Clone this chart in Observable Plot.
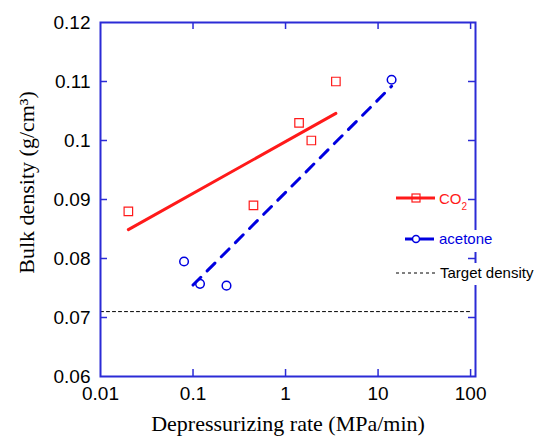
<!DOCTYPE html>
<html><head><meta charset="utf-8">
<script src="https://cdn.jsdelivr.net/npm/d3@7"></script>
<script src="https://cdn.jsdelivr.net/npm/@observablehq/plot@0.6"></script>
<style>
body{margin:0;background:#fff;}
#wrap{position:relative;width:537px;height:443px;}
#wrap svg{display:block;}
#legend{position:absolute;left:0;top:0;pointer-events:none;}
</style></head><body><div id="wrap"></div>
<script>
const co2Rate = [0.02, 0.45, 1.4, 1.9, 3.5];
const co2Density = [0.088, 0.089, 0.103, 0.100, 0.110];
const acetoneRate = [0.08, 0.119, 0.23, 14];
const acetoneDensity = [0.0795, 0.0757, 0.0754, 0.1103];
const co2FitRate = [0.02, 3.5];
const co2FitDensity = [0.0849, 0.1046];
const acetoneFitRate = [0.1, 14];
const acetoneFitDensity = [0.0755, 0.1092];
const targetRate = [0.01, 100];
const targetDensity = 0.071;
const xTicks = [0.01, 0.1, 1, 10, 100];
const xTickLabels = ["0.01", "0.1", "1", "10", "100"];
const yTicks = [0.06, 0.07, 0.08, 0.09, 0.10, 0.11, 0.12];
const yTickLabels = ["0.06", "0.07", "0.08", "0.09", "0.1", "0.11", "0.12"];
const xLabel = "Depressurizing rate (MPa/min)";
const yLabel = "Bulk density (g/cm³)";
const legendNames = ["CO", "acetone", "Target density"];

const frameBlue = "#2b2bd6";
const red = "#ff1a1a";
const blue = "#0000e0";
const W = 537, H = 443, mL = 100, mR = 62, mT = 22, mB = 67;
const iW = W - mL - mR, iH = H - mT - mB;

const co2 = co2Rate.map((x, i) => ({x, y: co2Density[i]}));
const acetone = acetoneRate.map((x, i) => ({x, y: acetoneDensity[i]}));
const co2Fit = co2FitRate.map((x, i) => ({x, y: co2FitDensity[i]}));
const acetoneFit = acetoneFitRate.map((x, i) => ({x, y: acetoneFitDensity[i]}));
const target = targetRate.map(x => ({x, y: targetDensity}));

const chart = Plot.plot({
  width: W, height: H,
  marginLeft: mL, marginRight: mR, marginTop: mT, marginBottom: mB,
  style: {fontFamily: "'Liberation Sans', Arial, sans-serif", background: "white"},
  x: {type: "log", domain: [0.01, 113]},
  y: {domain: [0.06, 0.12]},
  marks: [
    Plot.axisX(xTicks, {anchor: "bottom", tickSize: 0, tickPadding: 10, fontSize: 19, fill: "black",
      tickFormat: d => xTickLabels[xTicks.indexOf(d)], label: null}),
    Plot.axisY(yTicks, {anchor: "left", tickSize: 0, tickPadding: 10, fontSize: 19, fill: "black",
      tickFormat: d => yTickLabels[yTicks.indexOf(d)], label: null}),
    Plot.tickX(xTicks.slice(1), {x: d => d, stroke: frameBlue, strokeWidth: 1.5, insetTop: iH - 7}),
    Plot.tickX(xTicks.slice(1), {x: d => d, stroke: frameBlue, strokeWidth: 1.5, insetBottom: iH - 7}),
    Plot.tickY(yTicks.slice(1, -1), {y: d => d, stroke: frameBlue, strokeWidth: 1.5, insetRight: iW - 7}),
    Plot.tickY(yTicks.slice(1, -1), {y: d => d, stroke: frameBlue, strokeWidth: 1.5, insetLeft: iW - 7}),
    Plot.line(target, {x: "x", y: "y", stroke: "black", strokeWidth: 1, strokeDasharray: "3,3"}),
    Plot.line(co2Fit, {x: "x", y: "y", stroke: red, strokeWidth: 3}),
    Plot.line(acetoneFit, {x: "x", y: "y", stroke: blue, strokeWidth: 3, strokeDasharray: "11,9"}),
    Plot.dot(co2, {x: "x", y: "y", symbol: "square", r: 4.8, stroke: red, fill: "none", strokeWidth: 1.2}),
    Plot.dot(acetone, {x: "x", y: "y", symbol: "circle", r: 4.3, stroke: blue, fill: "none", strokeWidth: 1.5}),
    Plot.frame({stroke: frameBlue, strokeWidth: 2}),
    Plot.text([xLabel], {frameAnchor: "bottom", dy: 54, fontSize: 22, fill: "black",
      fontFamily: "'Liberation Serif', 'Times New Roman', serif"}),
    Plot.text([yLabel], {frameAnchor: "left", textAnchor: "middle", rotate: -90, dx: -74, dy: -17, fontSize: 22, fill: "black",
      fontFamily: "'Liberation Serif', 'Times New Roman', serif"})
  ]
});
const wrap = document.getElementById("wrap");
wrap.appendChild(chart);

// legend overlay
const lg = d3.select(wrap).append("svg").attr("id", "legend").attr("width", W).attr("height", H)
  .style("font-family", "'Liberation Sans', Arial, sans-serif");
// CO2
lg.append("line").attr("x1", 396).attr("x2", 435).attr("y1", 198).attr("y2", 198).attr("stroke", red).attr("stroke-width", 3);
lg.append("rect").attr("x", 412).attr("y", 194).attr("width", 8).attr("height", 8).attr("fill", "none").attr("stroke", red).attr("stroke-width", 1.2);
const t1 = lg.append("text").attr("x", 439).attr("y", 203.5).attr("fill", red).attr("font-size", 15);
t1.append("tspan").text(legendNames[0]);
t1.append("tspan").attr("dy", 6).attr("font-size", 10).text("2");
// acetone
lg.append("rect").attr("x", 436).attr("y", 230).attr("width", 62).attr("height", 22).attr("fill", "white");
lg.append("line").attr("x1", 405).attr("x2", 413).attr("y1", 239).attr("y2", 239).attr("stroke", blue).attr("stroke-width", 3);
lg.append("line").attr("x1", 420).attr("x2", 434).attr("y1", 239).attr("y2", 239).attr("stroke", blue).attr("stroke-width", 3);
lg.append("circle").attr("cx", 416).attr("cy", 239).attr("r", 3.5).attr("fill", "none").attr("stroke", blue).attr("stroke-width", 1.5);
lg.append("text").attr("x", 439).attr("y", 244).attr("fill", blue).attr("font-size", 15).text(legendNames[1]);
// target
lg.append("rect").attr("x", 436).attr("y", 263).attr("width", 101).attr("height", 22).attr("fill", "white");
lg.append("line").attr("x1", 396).attr("x2", 435).attr("y1", 273).attr("y2", 273).attr("stroke", "black").attr("stroke-width", 1).attr("stroke-dasharray", "3,3");
lg.append("text").attr("x", 440).attr("y", 278).attr("fill", "black").attr("font-size", 15).text(legendNames[2]);
</script></body></html>
